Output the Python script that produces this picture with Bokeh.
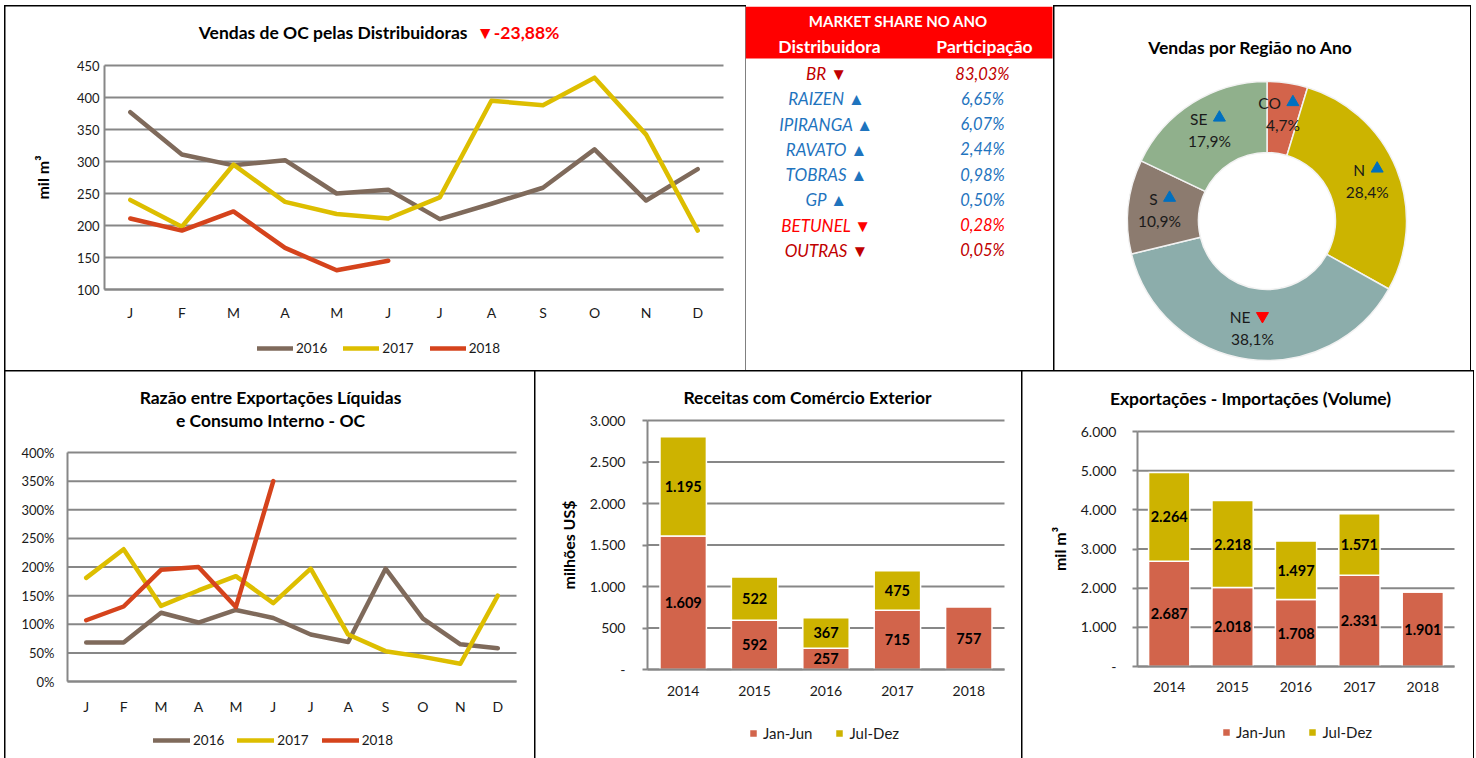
import math
from bokeh.plotting import figure
from bokeh.layouts import row, column
from bokeh.models import (Range1d, FixedTicker, Legend, LegendItem, Label,
                          ColumnDataSource, PrintfTickFormatter)
from bokeh.core.properties import value
from bokeh.embed import file_html
from bokeh.resources import INLINE

# ---------------- data ----------------
months = ["J", "F", "M", "A", "M", "J", "J", "A", "S", "O", "N", "D"]
vendas_2016 = [377, 311, 294, 302, 250, 256, 210, 234, 259, 319, 239, 288]
vendas_2017 = [240, 198, 295, 237, 218, 211, 244, 395, 388, 431, 342, 192]
vendas_2018 = [211, 192, 222, 165, 130, 145]
vendas_var = "-23,88%"

razao_2016 = [68, 68, 120, 103, 125, 111, 82, 69, 197, 110, 65, 58]
razao_2017 = [181, 231, 132, 159, 184, 137, 197, 82, 53, 43, 31, 150]
razao_2018 = [107, 131, 195, 200, 130, 350]

distribuidoras = ["BR", "RAIZEN", "IPIRANGA", "RAVATO", "TOBRAS", "GP", "BETUNEL", "OUTRAS"]
participacao = [83.03, 6.65, 6.07, 2.44, 0.98, 0.50, 0.28, 0.05]
tendencia_dist = ["down", "up", "up", "up", "up", "up", "down", "down"]

regioes = ["CO", "N", "NE", "S", "SE"]
regiao_pct = [4.7, 28.4, 38.1, 10.9, 17.9]
tendencia_reg = ["up", "up", "down", "up", "up"]

anos = ["2014", "2015", "2016", "2017", "2018"]
receitas_jan_jun = [1609, 592, 257, 715, 757]
receitas_jul_dez = [1195, 522, 367, 475, 0]
volume_jan_jun = [2687, 2018, 1708, 2331, 1901]
volume_jul_dez = [2264, 2218, 1497, 1571, 0]

# ---------------- style ----------------
FONT = "Lato"
C2016 = "#7F6A5B"
C2017 = "#DDBE00"
C2018 = "#D5431C"
GRID = "#878787"
JAN = "#D2644B"
JUL = "#CDB300"
TXT = "#1a1a1a"
UP = "#0070C0"
DOWN = "#FF0000"
TITLE_SIZE = "17.5px"
ROW_COLORS = ["#C00000", "#1F74BE", "#1F74BE", "#1F74BE", "#1F74BE", "#1F74BE", "#FF0000", "#C00000"]
REG_COLORS = ["#D3644B", "#CCB400", "#8CADAB", "#8C7B6F", "#90B08C"]
BORDER = {"outline": "2px solid black", "outline-offset": "-1px"}


def chart_fig(w, h, area, xdom, ydom, border=True):
    """Figure whose frame is the whole panel; the plot area (margins l,r,t,b in px)
    maps onto xdom / ydom."""
    l, r, t, b = area
    fw, fh = w - l - r, h - t - b
    sx = (xdom[1] - xdom[0]) / fw
    sy = (ydom[1] - ydom[0]) / fh
    p = figure(width=w, height=h,
               x_range=Range1d(xdom[0] - l * sx, xdom[1] + r * sx),
               y_range=Range1d(ydom[0] - b * sy, ydom[1] + t * sy),
               min_border=0, output_backend="svg", toolbar_location=None)
    p.outline_line_color = None
    p.background_fill_color = "white"
    p.border_fill_color = "white"
    p.grid.visible = False
    if border:
        p.styles = BORDER
    return p


def style_axes(p, xdom, ydom, yticks, xsize, ysize, xstand, ystand, tick_out=0):
    xa, ya = p.xaxis[0], p.yaxis[0]
    xa.fixed_location = ydom[0]
    xa.bounds = xdom
    ya.fixed_location = xdom[0]
    ya.bounds = ydom
    for ax in (xa, ya):
        ax.axis_line_color = GRID
        ax.axis_line_width = 2
        ax.minor_tick_line_color = None
        ax.major_label_text_font = FONT
        ax.major_label_text_color = TXT
        ax.axis_label_text_font = FONT
        ax.axis_label_text_font_style = "bold"
        ax.axis_label_text_font_size = "16px"
        ax.axis_label_text_color = "black"
        ax.major_tick_in = 0
    xa.major_tick_line_color = None
    xa.major_tick_out = 0
    ya.major_tick_out = tick_out
    ya.major_tick_line_color = GRID if tick_out else None
    ya.major_tick_line_width = 2
    xa.major_label_text_font_size = xsize
    ya.major_label_text_font_size = ysize
    xa.major_label_standoff = xstand
    ya.major_label_standoff = ystand
    ya.ticker = FixedTicker(ticks=yticks)
    # horizontal grid lines across the plot area
    p.segment(x0=xdom[0], x1=xdom[1], y0=yticks, y1=yticks, line_color=GRID,
              line_width=2, level="underlay")


def title_label(p, x, y, text, color="black", align="center", size=TITLE_SIZE):
    p.add_layout(Label(x=x, y=y, x_units="screen", y_units="screen", text=text,
                       text_align=align, text_baseline="middle", text_font=FONT,
                       text_font_style="bold", text_font_size=size, text_color=color))


def make_legend(items, loc, glyph_w, glyph_h, spacing, standoff, size):
    return Legend(items=items, location=loc, orientation="horizontal",
                  border_line_color=None, background_fill_alpha=0, padding=0, margin=0,
                  spacing=spacing, label_standoff=standoff, glyph_width=glyph_w,
                  glyph_height=glyph_h, label_height=16, label_text_font=FONT,
                  label_text_font_size=size, label_text_color=TXT)


def line_chart(w, h, area, series, ydom, ystep, xstand, ystand, ylabel_fmt=None, ylabel=None):
    xdom = (-0.5, len(months) - 0.5)
    p = chart_fig(w, h, area, xdom, ydom)
    yticks = list(range(ydom[0], ydom[1] + 1, ystep))
    style_axes(p, xdom, ydom, yticks, "14px", "13px", xstand, ystand)
    items = []
    for vals, col, lab in series:
        r = p.line(list(range(len(vals))), vals, line_color=col, line_width=4.5,
                   line_join="round", line_cap="round")
        items.append(LegendItem(label=lab, renderers=[r]))
    p.xaxis.ticker = FixedTicker(ticks=list(range(len(months))))
    p.xaxis.major_label_overrides = {i: m for i, m in enumerate(months)}
    if ylabel_fmt:
        p.yaxis.formatter = PrintfTickFormatter(format=ylabel_fmt)
    if ylabel:
        p.yaxis.axis_label = ylabel
    return p, items


TOP_H, BOT_H = 365, 387

# ---------------- P1: Vendas de OC ----------------
p1, items1 = line_chart(740, TOP_H, (99, 22, 59, 82),
                        [(vendas_2016, C2016, "2016"), (vendas_2017, C2017, "2017"),
                         (vendas_2018, C2018, "2018")],
                        (100, 450), 50, xstand=14, ystand=5, ylabel="mil m³")
p1.yaxis.axis_label_standoff = 22
title_label(p1, 462, 339, "Vendas de OC pelas Distribuidoras", align="right")
title_label(p1, 471, 339, "▼" + vendas_var, color="#FF0000", align="left")
p1.add_layout(make_legend(items1, (252, 15), 36, 16, 16, 3, "13.5px"))

# ---------------- P2: Market share table ----------------
p2 = figure(width=309, height=TOP_H, x_range=Range1d(0, 309), y_range=Range1d(TOP_H, 0),
            x_axis_type=None, y_axis_type=None, min_border=0,
            output_backend="svg", toolbar_location=None)
p2.outline_line_color = None
p2.grid.visible = False
p2.quad(left=[0], right=[307], top=[0], bottom=[52], fill_color="#FF0000", line_color=None)
p2.text(x=[153], y=[14], text=["MARKET SHARE NO ANO"], text_align="center",
        text_baseline="middle", text_font=value(FONT), text_font_style="bold",
        text_font_size="15px", text_color="white")
p2.text(x=[84, 239], y=[40, 40], text=["Distribuidora", "Participação"], text_align="center",
        text_baseline="middle", text_font=value(FONT), text_font_style="bold",
        text_font_size="17.5px", text_color="white")
arrow = {"up": "▲", "down": "▼"}
n = len(distribuidoras)
tsrc = ColumnDataSource(dict(
    y=[67 + 25.25 * i for i in range(n)],
    name=[f"{d} {arrow[t]}" for d, t in zip(distribuidoras, tendencia_dist)],
    val=[f"{v:.2f}%".replace(".", ",") for v in participacao],
    col=ROW_COLORS[:n],
))
p2.text(x=81, y="y", text="name", source=tsrc, text_align="center", text_baseline="middle",
        text_font=value(FONT), text_font_style="italic", text_font_size="17px", text_color="col")
p2.text(x=237, y="y", text="val", source=tsrc, text_align="center", text_baseline="middle",
        text_font=value(FONT), text_font_style="italic", text_font_size="16.5px", text_color="col")

# ---------------- P3: donut ----------------
P3_W = 416
p3 = figure(width=P3_W, height=TOP_H, x_range=Range1d(0, P3_W), y_range=Range1d(0, TOP_H),
            x_axis_type=None, y_axis_type=None, min_border=0,
            output_backend="svg", toolbar_location=None)
p3.outline_line_color = None
p3.grid.visible = False
p3.styles = BORDER
cx, cy = 212.5, 150.5
tot = sum(regiao_pct)
starts, ends, mids = [], [], []
acc = 0.0
for v in regiao_pct:
    a0 = math.pi / 2 - 2 * math.pi * acc / tot
    acc += v
    a1 = math.pi / 2 - 2 * math.pi * acc / tot
    starts.append(a0)
    ends.append(a1)
    mids.append((a0 + a1) / 2)
dsrc = ColumnDataSource(dict(start=starts, end=ends, color=REG_COLORS[:len(regioes)]))
p3.annular_wedge(x=cx, y=cy, inner_radius=68.5, outer_radius=139.5,
                 inner_radius_units="screen", outer_radius_units="screen",
                 start_angle="start", end_angle="end", direction="clock",
                 fill_color="color", line_color="#F2F2F2", line_width=1.5, source=dsrc)
RL = 108
lx = [cx + RL * math.cos(a) for a in mids]
ly = [cy + RL * math.sin(a) for a in mids]
p3.text(x=[x - 2 for x in lx], y=[y + 11 for y in ly], text=regioes, text_align="right",
        text_baseline="middle", text_font=value(FONT), text_font_size="15.5px", text_color=TXT)
p3.scatter(x=[x + 10 for x in lx], y=[y + 12 for y in ly],
           marker=["triangle" if t == "up" else "inverted_triangle" for t in tendencia_reg],
           size=12, color=[UP if t == "up" else DOWN for t in tendencia_reg])
p3.text(x=lx, y=[y - 11 for y in ly], text=[f"{v:.1f}%".replace(".", ",") for v in regiao_pct],
        text_align="center", text_baseline="middle", text_font=value(FONT),
        text_font_size="15.5px", text_color=TXT)
p3.text(x=[196], y=[324], text=["Vendas por Região no Ano"], text_align="center",
        text_baseline="middle", text_font=value(FONT), text_font_style="bold",
        text_font_size=TITLE_SIZE, text_color="black")

# ---------------- P4: Razão ----------------
p4, items4 = line_chart(530, BOT_H, (62, 19, 81, 77),
                        [(razao_2016, C2016, "2016"), (razao_2017, C2017, "2017"),
                         (razao_2018, C2018, "2018")],
                        (0, 400), 50, xstand=16, ystand=13, ylabel_fmt="%d%%")
title_label(p4, 265, 361, "Razão entre Exportações Líquidas")
title_label(p4, 265, 338, "e Consumo Interno - OC")
p4.add_layout(make_legend(items4, (148, 10), 37, 16, 13, 3, "13.5px"))


# ---------------- bar charts ----------------
def thousands(v):
    return f"{v:,}".replace(",", ".") if v else "-"


def bar_chart(w, h, area, jan, jul, ymax, ystep, ylabel, xstand, ystand, lstand):
    xdom = (-0.5, len(anos) - 0.5)
    ydom = (0, ymax)
    p = chart_fig(w, h, area, xdom, ydom)
    ticks = list(range(0, ymax + 1, ystep))
    style_axes(p, xdom, ydom, ticks, "14px", "14px", xstand, ystand, tick_out=5)
    xs = list(range(len(anos)))
    src = ColumnDataSource(dict(x=xs, jan=jan, jul=jul))
    rs = p.vbar_stack(["jan", "jul"], x="x", width=0.65, color=[JAN, JUL],
                      line_color="white", line_width=1.5, source=src)
    p.xaxis.ticker = FixedTicker(ticks=xs)
    p.xaxis.major_label_overrides = {i: a for i, a in enumerate(anos)}
    p.yaxis.major_label_overrides = {t: thousands(t) for t in ticks}
    p.yaxis.axis_label = ylabel
    p.yaxis.axis_label_standoff = lstand
    lx_, ly_, lt_ = [], [], []
    for i, (j, k) in enumerate(zip(jan, jul)):
        lx_.append(i); ly_.append(j / 2); lt_.append(thousands(j))
        if k:
            lx_.append(i); ly_.append(j + k / 2); lt_.append(thousands(k))
    p.text(x=lx_, y=ly_, text=lt_, text_align="center", text_baseline="middle",
           text_font=value(FONT), text_font_style="bold", text_font_size="14.5px",
           text_color="black")
    items = [LegendItem(label="Jan-Jun", renderers=[rs[0]]),
             LegendItem(label="Jul-Dez", renderers=[rs[1]])]
    return p, items


p5, items5 = bar_chart(487, BOT_H, (112, 18, 49, 89), receitas_jan_jun, receitas_jul_dez,
                       3000, 500, "milhões US$", 16, 17, 9)
title_label(p5, 272, 361, "Receitas com Comércio Exterior")
p5.add_layout(make_legend(items5, (213, 16), 10, 10, 22, 5, "15px"))

p6, items6 = bar_chart(451, BOT_H, (115, 19, 60, 92), volume_jan_jun, volume_jul_dez,
                       6000, 1000, "mil m³", 15, 16, 9)
title_label(p6, 228, 360, "Exportações - Importações (Volume)")
p6.add_layout(make_legend(items6, (199, 17), 10, 10, 22, 5, "15px"))

layout = column(row(p1, p2, p3), row(p4, p5, p6), margin=(6, 0, 0, 5))
open("out.html", "w").write(file_html(layout, INLINE))
